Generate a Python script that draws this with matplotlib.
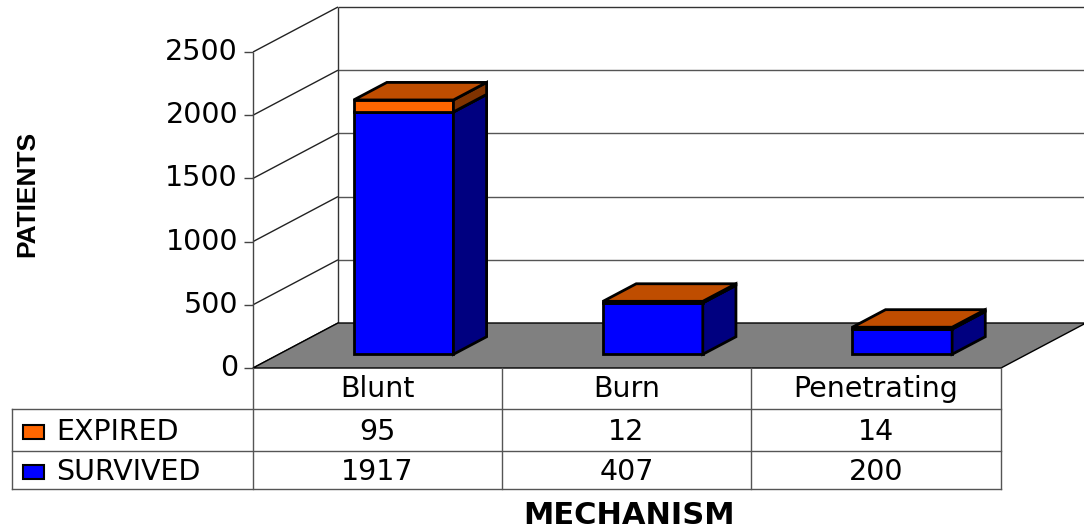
import matplotlib
matplotlib.use("Agg")
import matplotlib.pyplot as plt
from matplotlib.lines import Line2D
from matplotlib.patches import Rectangle
from matplotlib.transforms import Affine2D

W, H = 1084, 528

categories = ["Blunt", "Burn", "Penetrating"]
survived = [1917, 407, 200]
expired = [95, 12, 14]
yticks = [0, 500, 1000, 1500, 2000, 2500]

ORANGE = "#FF6600"
ORANGE_TOP = "#BF4D00"
ORANGE_SIDE = "#803300"
BLUE = "#0000FF"
BLUE_SIDE = "#000080"
FONT = "DejaVu Sans"
FS = 20.5

fig = plt.figure(figsize=(W / 100, H / 100), dpi=100)
# axes = front plane of the 3d box, in pixels 253..1001 / 368..52
ax = fig.add_axes([253 / W, 1 - 368 / H, 748 / W, 316 / H])
ax.set_xlim(0, len(categories))
ax.set_ylim(0, 2500)
ax.axis("off")
px = Affine2D().scale(1 / W, -1 / H).translate(0, 1) + fig.transFigure

# depth of the box in data units
DX = 85 / 748 * 3
DY = 45 / 316 * 2500
BAR_W = 0.4
BAR_DEPTH = 0.39


def project(x, y, d):
    return x + d * DX, y + d * DY


def poly(points, color, lw=1.0, z=2):
    xs = [p[0] for p in points]
    ys = [p[1] for p in points]
    ax.fill(xs, ys, facecolor=color, edgecolor="black", linewidth=lw,
            clip_on=False, zorder=z, joinstyle="miter")


def line(x, y, lw=1.0, color="#222222", z=1):
    ax.plot(x, y, color=color, lw=lw, clip_on=False, zorder=z,
            solid_capstyle="butt")


##walls and grid
n = len(categories)
for t in yticks:
    x0, y0 = project(0, t, 1)
    x1, y1 = project(n, t, 1)
    line([0, x0], [t, y0], lw=1.0)
    if t > 0:
        line([x0, x1], [y0, y1], lw=1.0, color="#333333" if t == 2500 else "#555555")
    ax.text(-15 * 3 / 748, t, str(t), ha="right", va="center", fontsize=FS,
            family=FONT, color="black", clip_on=False)
    line([-9 * 3 / 748, 0], [t, t], lw=1.0, color="#444444")
line([0, 0], [0, 2500], lw=1.0, color="#444444")
line([project(0, 0, 1)[0]] * 2, [project(0, 0, 1)[1], project(0, 2500, 1)[1]], lw=1.0, color="#333333")

poly([project(0, 0, 0), project(n, 0, 0), project(n, 0, 1), project(0, 0, 1)], "#808080", lw=1.0, z=1.5)


##bars
def box(x, bottom, top, front, top_color, side_color, z):
    d0 = (1 - BAR_DEPTH) / 2
    d1 = d0 + BAR_DEPTH
    xl = x - BAR_W / 2
    xr = x + BAR_W / 2
    poly([project(xl, bottom, d0), project(xr, bottom, d0), project(xr, top, d0), project(xl, top, d0)], front, 2.0, z)
    poly([project(xr, bottom, d0), project(xr, bottom, d1), project(xr, top, d1), project(xr, top, d0)], side_color, 2.0, z)
    poly([project(xl, top, d0), project(xr, top, d0), project(xr, top, d1), project(xl, top, d1)], top_color, 2.0, z)


for i in range(n):
    c = i + 0.5
    box(c, 0, survived[i], BLUE, BLUE, BLUE_SIDE, 3)
    box(c, survived[i], survived[i] + expired[i], ORANGE, ORANGE_TOP, ORANGE_SIDE, 4)

##data table
col_x = [253, 502, 751, 1001]
row_y = [368, 409, 451, 489]
table_color = "#555555"
for x in col_x:
    fig.add_artist(Line2D([x, x], [368, 489], transform=px, color=table_color, lw=1.0))
fig.add_artist(Line2D([12, 12], [409, 489], transform=px, color=table_color, lw=1.0))
for y in row_y[1:]:
    fig.add_artist(Line2D([12, 1001], [y, y], transform=px, color=table_color, lw=1.0))

rows = [("EXPIRED", expired, ORANGE, 432), ("SURVIVED", survived, BLUE, 472)]
for name, vals, col, y in rows:
    fig.add_artist(Rectangle((23, y - 7), 21, 14, transform=px, facecolor=col, edgecolor="black", lw=1.5))
    fig.text(56 / W, 1 - y / H, name, ha="left", va="center", fontsize=FS, family=FONT)
    for i, v in enumerate(vals):
        fig.text((col_x[i] + col_x[i + 1]) / 2 / W, 1 - y / H, str(v), ha="center", va="center", fontsize=FS, family=FONT)
for i, cat in enumerate(categories):
    fig.text((col_x[i] + col_x[i + 1]) / 2 / W, 1 - 389 / H, cat, ha="center", va="center", fontsize=FS, family=FONT)

##axis titles
fig.text(27 / W, 1 - 194 / H, "PATIENTS", rotation=90, ha="center", va="center",
         fontsize=19, fontweight="bold", family="Liberation Sans")
fig.text(629 / W, 1 - 515 / H, "MECHANISM", ha="center", va="center",
         fontsize=22, fontweight="bold", family=FONT)

fig.savefig("out.png", dpi=100)
